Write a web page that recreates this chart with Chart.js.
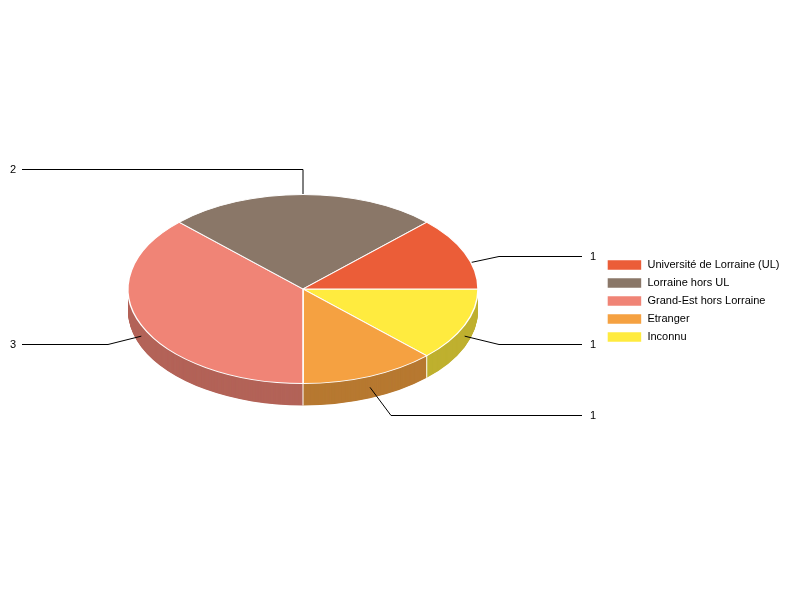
<!DOCTYPE html>
<html><head><meta charset="utf-8">
<style>html,body{margin:0;padding:0;background:#fff}canvas{display:block}</style>
<script src="https://cdn.jsdelivr.net/npm/chart.js@4/dist/chart.umd.js"></script>
</head><body><canvas id="c" width="800" height="600"></canvas>
<script>
const categories = ["Université de Lorraine (UL)", "Lorraine hors UL", "Grand-Est hors Lorraine", "Etranger", "Inconnu"];
const values = [1, 2, 3, 1, 1];
const colors = ["#EB5D38", "#8A7768", "#F08476", "#F5A141", "#FFEB3F"];
const wallColors = ["#B04628", "#67594E", "#B36358", "#B77931", "#BFB02F"];
// Leader line layout for each category: elbow x, elbow / label y, line end x, label x
const leaderLayout = [
  {elbowX: 499, y: 256, endX: 582, textX: 590},
  {elbowX: 303, y: 169, endX: 22,  textX: 10},
  {elbowX: 108, y: 344, endX: 22,  textX: 10},
  {elbowX: 391, y: 415, endX: 582, textX: 590},
  {elbowX: 499, y: 344, endX: 582, textX: 590}
];
const CX = 303, CY = 289, SQUASH = 0.54, DEPTH = 22;

// Slices run counter-clockwise in the picture, so the library gets them reversed.
const rev = a => a.slice().reverse();

function project(ctx, el, dy) {
  ctx.translate(CX, CY + dy);
  ctx.scale(1, SQUASH);
  ctx.translate(-el.x, -el.y);
}

const pie3d = {
  id: 'pie3d',
  beforeDatasetsDraw(chart) {
    const ctx = chart.ctx, els = chart.getDatasetMeta(0).data;
    const n = els.length;
    // side wall
    for (let d = DEPTH; d >= 1; d -= 0.5) {
      els.forEach((el, i) => {
        const saved = el.options;
        el.options = {backgroundColor: wallColors[n - 1 - i], borderColor: wallColors[n - 1 - i], borderWidth: 0,
          borderAlign: 'center', borderJoinStyle: 'round', borderRadius: 0, offset: 0, spacing: 0, angle: undefined, circular: true, borderDash: [], borderDashOffset: 0};
        ctx.save(); project(ctx, el, d); el.draw(ctx); ctx.restore();
        el.options = saved;
      });
    }
    // wall dividers
    ctx.save();
    ctx.strokeStyle = '#fff'; ctx.lineWidth = 1;
    els.forEach(el => {
      const a = el.startAngle;
      if (Math.sin(a) > 0.01) {
        const x = CX + Math.cos(a) * el.outerRadius, y = CY + Math.sin(a) * el.outerRadius * SQUASH;
        ctx.beginPath(); ctx.moveTo(x, y); ctx.lineTo(x, y + DEPTH); ctx.stroke();
      }
    });
    ctx.restore();
    // leader lines and value labels
    ctx.save();
    ctx.strokeStyle = '#000'; ctx.lineWidth = 1; ctx.fillStyle = '#000';
    ctx.font = '11px "Liberation Sans"'; ctx.textBaseline = 'middle'; ctx.textAlign = 'left';
    els.forEach((el, i) => {
      const k = n - 1 - i, L = leaderLayout[k];
      const mid = (el.startAngle + el.endAngle) / 2;
      const x = CX + Math.cos(mid) * el.outerRadius;
      const y = CY + Math.sin(mid) * el.outerRadius * SQUASH + DEPTH / 2;
      ctx.beginPath(); ctx.moveTo(x, y); ctx.lineTo(L.elbowX, L.y + 0.5); ctx.lineTo(L.endX, L.y + 0.5); ctx.stroke();
      ctx.fillText(String(values[k]), L.textX, L.y + 1);
    });
    ctx.restore();
  },
  beforeDatasetDraw(chart) {
    const el = chart.getDatasetMeta(0).data[0];
    chart.ctx.save(); project(chart.ctx, el, 0);
  },
  afterDatasetDraw(chart) { chart.ctx.restore(); }
};

new Chart(document.getElementById('c'), {
  type: 'pie',
  data: {
    labels: rev(categories),
    datasets: [{data: rev(values), backgroundColor: rev(colors), borderColor: '#fff', borderWidth: 1.5}]
  },
  options: {
    responsive: false, animation: false, rotation: 90, radius: 175,
    layout: {padding: {right: 10.5, top: 2}},
    plugins: {
      tooltip: {enabled: false},
      legend: {
        position: 'right', reverse: true,
        labels: {boxWidth: 35, boxHeight: 11, padding: 7, color: '#000',
          font: {family: '"Liberation Sans"', size: 11}}
      }
    }
  },
  plugins: [pie3d]
});
</script></body></html>
